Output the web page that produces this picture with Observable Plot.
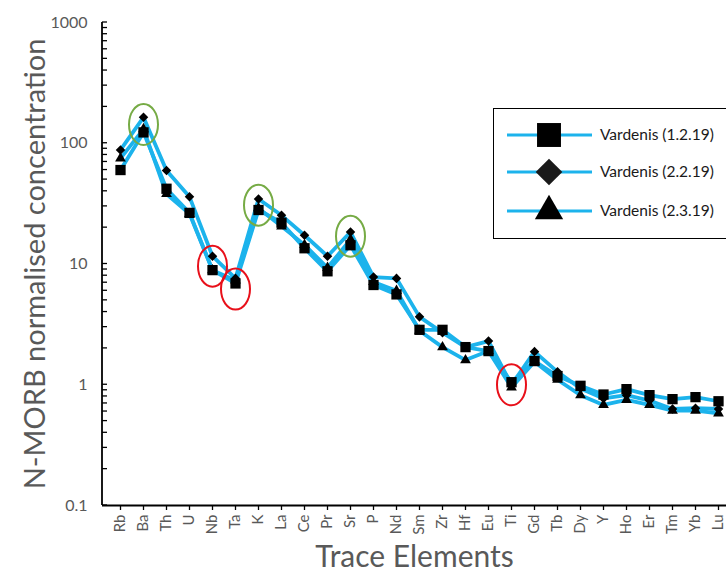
<!DOCTYPE html>
<html>
<head>
<meta charset="utf-8">
<script src="https://cdn.jsdelivr.net/npm/d3@7"></script>
<script src="https://cdn.jsdelivr.net/npm/@observablehq/plot@0.6"></script>
<style>
  html, body { margin: 0; padding: 0; background: #fff; }
  body { width: 726px; height: 578px; overflow: hidden; position: relative; font-family: Lato, "Open Sans", sans-serif; }
  #legend { position: absolute; left: 493px; top: 108px; width: 260px; height: 131px; border: 1.5px solid #000; background: #fff; box-sizing: border-box; }
</style>
</head>
<body>
<div id="chart"></div>
<div id="legend"></div>
<script>
// ---- data ----
const elements = ["Rb","Ba","Th","U","Nb","Ta","K","La","Ce","Pr","Sr","P","Nd","Sm","Zr","Hf","Eu","Ti","Gd","Tb","Dy","Y","Ho","Er","Tm","Yb","Lu"];
const seriesNames = ["Vardenis (1.2.19)", "Vardenis (2.2.19)", "Vardenis (2.3.19)"];
const vardenis_1_2_19 = [60, 123, 42, 26.5, 8.9, 6.9, 28, 22, 13.5, 8.7, 14.3, 6.7, 5.6, 2.85, 2.85, 2.05, 1.9, 1.05, 1.57, 1.18, 0.98, 0.83, 0.92, 0.82, 0.76, 0.79, 0.73];
const vardenis_2_2_19 = [88, 164, 59.5, 36, 11.6, 7.6, 34.5, 25.3, 17.3, 11.6, 18.4, 7.8, 7.6, 3.65, 2.7, 2.05, 2.3, 1.0, 1.88, 1.28, 0.93, 0.77, 0.82, 0.74, 0.63, 0.64, 0.63];
const vardenis_2_3_19 = [75, 131, 38, 26, 8.9, 7.3, 29, 20.5, 14.4, 9.3, 16, 7.1, 6.0, 2.8, 2.05, 1.6, 1.9, 0.95, 1.55, 1.1, 0.82, 0.68, 0.75, 0.68, 0.61, 0.61, 0.58];
const majorTicks = [0.1, 1, 10, 100, 1000];
const circledElements = ["Ba", "K", "Sr", "Nb", "Ta", "Ti"];
const circledValues = [143, 30.7, 17, 9.6, 6.2, 1.0];
const circledGroup = ["green", "green", "green", "red", "red", "red"];

// ---- styles ----
const lineColor = "#1cb3ec";
const symbols = ["square", "diamond2", "triangle"];
const radii = [5.8, 4.3, 4.0];
const legendRadii = [13.5, 12, 10.5];
const circleColors = {green: "#76ab45", red: "#e8101a"};

const seriesValues = [vardenis_1_2_19, vardenis_2_2_19, vardenis_2_3_19];
const rows = seriesValues.flatMap((vals, s) => elements.map((e, i) => ({element: e, value: vals[i], series: seriesNames[s]})));
const circled = circledElements.map((e, i) => ({element: e, value: circledValues[i], group: circledGroup[i]}));

const minorTicks = [];
for (let d = 0.1; d < 1000; d *= 10) for (let k = 1; k <= 9; k++) minorTicks.push(+(d * k).toPrecision(3));
minorTicks.push(1000);

const ellipse = {
  draw(ctx) {
    const rx = 14.5, ry = 20.5, k = 0.5523;
    ctx.moveTo(rx, 0);
    ctx.bezierCurveTo(rx, k * ry, k * rx, ry, 0, ry);
    ctx.bezierCurveTo(-k * rx, ry, -rx, k * ry, -rx, 0);
    ctx.bezierCurveTo(-rx, -k * ry, -k * rx, -ry, 0, -ry);
    ctx.bezierCurveTo(k * rx, -ry, rx, -k * ry, rx, 0);
    ctx.closePath();
  }
};

const ns = "http://www.w3.org/2000/svg";
const leftAxis = (index, scales, values, dimensions) => {
  const g = document.createElementNS(ns, "g");
  const x0 = dimensions.marginLeft;
  const l = document.createElementNS(ns, "line");
  l.setAttribute("x1", x0); l.setAttribute("x2", x0);
  l.setAttribute("y1", dimensions.marginTop);
  l.setAttribute("y2", dimensions.height - dimensions.marginBottom);
  l.setAttribute("stroke", "#000"); l.setAttribute("stroke-width", 1.8);
  g.appendChild(l);
  for (const v of minorTicks) {
    const t = document.createElementNS(ns, "line");
    const y = scales.y(v);
    t.setAttribute("x1", x0); t.setAttribute("x2", x0 + 5);
    t.setAttribute("y1", y); t.setAttribute("y2", y);
    t.setAttribute("stroke", "#000"); t.setAttribute("stroke-width", 1.3);
    g.appendChild(t);
  }
  return g;
};

const chart = Plot.plot({
  width: 726,
  height: 578,
  marginLeft: 102,
  marginRight: 0,
  marginTop: 22,
  marginBottom: 73,
  style: {fontFamily: "Lato, 'Open Sans', sans-serif", background: "#fff"},
  x: {type: "point", domain: elements, range: [114.5, 724], padding: 0, axis: null},
  y: {type: "log", domain: [0.1, 1000], axis: null},
  marks: [
    Plot.axisY(majorTicks, {tickSize: 0, tickPadding: 15, tickFormat: d => String(d), label: null, fill: "#595959", fontSize: 16}),
    Plot.axisX(elements, {tickSize: 5, tickPadding: 4, tickRotate: -90, label: null, stroke: "#000", fill: "#595959", fontSize: 15, strokeWidth: 1.3}),
    Plot.ruleY([0.1], {stroke: "#000", strokeWidth: 1.8}),
    leftAxis,
    Plot.line(rows, {x: "element", y: "value", z: "series", stroke: lineColor, strokeWidth: 3.8}),
    ...seriesNames.map((name, s) =>
      Plot.dot(rows.filter(d => d.series === name), {x: "element", y: "value", symbol: symbols[s], r: radii[s], fill: "#000", stroke: "none"})
    ),
    Plot.dot(circled.filter(d => d.group === "green"), {x: "element", y: "value", symbol: ellipse, fill: "none", stroke: circleColors.green, strokeWidth: 2}),
    Plot.dot(circled.filter(d => d.group === "red"), {x: "element", y: "value", symbol: ellipse, fill: "none", stroke: circleColors.red, strokeWidth: 2}),
    Plot.text(["N-MORB normalised concentration"], {frameAnchor: "left", textAnchor: "middle", rotate: -90, dx: -67, fontSize: 29, fill: "#595959"}),
    Plot.text(["Trace Elements"], {frameAnchor: "bottom", textAnchor: "middle", dy: 61, fontSize: 30, fill: "#595959"})
  ]
});
document.getElementById("chart").appendChild(chart);

// ---- legend ----
const lg = d3.select("#legend").append("svg").attr("width", 260).attr("height", 130)
  .style("position", "absolute").style("left", "-1.5px").style("top", "-1.5px");
const rowY = [27, 64, 103];
const legendTypes = [d3.symbolSquare, d3.symbolDiamond2, d3.symbolTriangle];
seriesNames.forEach((name, s) => {
  const g = lg.append("g").attr("transform", `translate(0,${rowY[s]})`);
  g.append("line").attr("x1", 14).attr("x2", 99).attr("stroke", lineColor).attr("stroke-width", 3);
  g.append("path").attr("transform", "translate(56,0)")
    .attr("d", d3.symbol().type(legendTypes[s]).size(Math.PI * legendRadii[s] ** 2)())
    .attr("fill", s === 1 ? "#1a1a1a" : "#000");
  g.append("text").attr("x", 107).attr("dy", "0.35em").attr("font-size", 15.5).attr("fill", "#1a1a1a")
    .attr("font-family", "Lato, 'Open Sans', sans-serif").text(name);
});
</script>
</body>
</html>
